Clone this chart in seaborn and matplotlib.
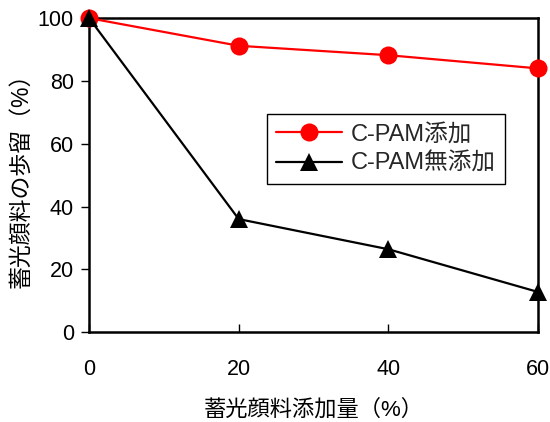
import matplotlib
matplotlib.use("Agg")
import matplotlib.pyplot as plt
import seaborn as sns
import pandas as pd

# 蓄光顔料添加量 (%) and retention (%) for each condition
pigment_amount = [0, 20, 40, 60]
with_cpam = [100, 91.2, 88.2, 84.0]
without_cpam = [100, 36.0, 26.4, 12.8]
series_names = ["C-PAM添加", "C-PAM無添加"]
x_ticks = [0, 20, 40, 60]
y_ticks = [0, 20, 40, 60, 80, 100]

df = pd.DataFrame({
    "x": pigment_amount * 2,
    "y": with_cpam + without_cpam,
    "series": [series_names[0]] * 4 + [series_names[1]] * 4,
})

sns.set_theme(style="white")
plt.rcParams["font.family"] = ["Liberation Sans", "Noto Sans CJK JP"]

fig = plt.figure(figsize=(5.5, 4.22), dpi=100)
ax = fig.add_axes([0.162, 0.213, 0.816, 0.744])

sns.lineplot(
    data=df, x="x", y="y", hue="series", style="series",
    palette={series_names[0]: "#ff0000", series_names[1]: "#000000"},
    markers={series_names[0]: "o", series_names[1]: "^"},
    dashes=False, markersize=13, markeredgewidth=0, linewidth=1.6,
    ax=ax, clip_on=False, zorder=3,
)

ax.set_xlim(0, 60)
ax.set_ylim(0, 100)
ax.set_xticks(x_ticks)
ax.set_yticks(y_ticks)
ax.tick_params(axis="x", direction="in", length=6, width=1, pad=19,
               labelsize=15.5, colors="black", bottom=True)
ax.tick_params(axis="y", direction="out", length=6, width=1, pad=5,
               labelsize=15.5, colors="black", left=True)
for s in ax.spines.values():
    s.set_visible(True)
    s.set_color("black")
    s.set_linewidth(1.8)

ax.set_xlabel("蓄光顔料添加量（%）", fontsize=16, labelpad=14, color="black")
ax.set_ylabel("蓄光顔料の歩留（%）", fontsize=16.5, labelpad=4, color="black")

leg = ax.legend(
    loc="upper left", bbox_to_anchor=(0.396, 0.695), fontsize=17,
    frameon=True, fancybox=False, edgecolor="black", framealpha=1,
    handlelength=2.8, borderpad=0.4, labelspacing=0.32, handletextpad=0.35,
    borderaxespad=0,
)
leg.get_frame().set_linewidth(1.0)

fig.savefig("out.png", dpi=100, facecolor="white")
